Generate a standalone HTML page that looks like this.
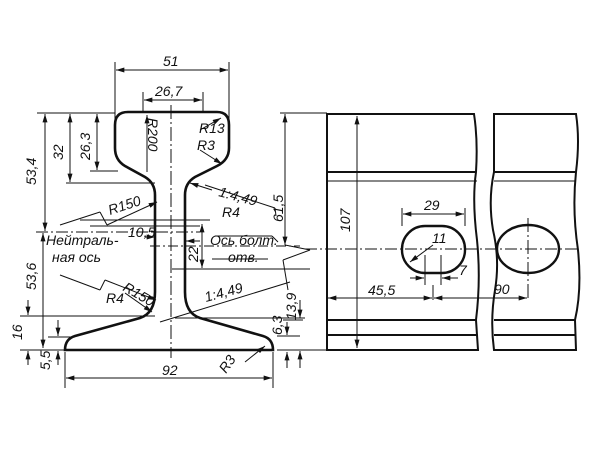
<!DOCTYPE html>
<html><head><meta charset="utf-8"><style>
html,body{margin:0;padding:0;background:#fff;width:600px;height:450px;overflow:hidden}
svg{display:block}
text{font-family:"Liberation Sans",sans-serif;font-style:italic;fill:#111;font-size:14px}
</style></head><body>
<svg width="600" height="450" viewBox="0 0 600 450" xmlns="http://www.w3.org/2000/svg">
<defs>
<marker id="a" viewBox="0 0 10 6" refX="10" refY="3" markerWidth="9" markerHeight="5" orient="auto-start-reverse"><path d="M0,0L10,3L0,6z" fill="#111"/></marker>
</defs>
<g fill="none" stroke="#111" stroke-width="1">
<path d="M115,125 Q115,112 128,112 L217,112 Q229,112 229,125 L229,148 Q229,160 217,166 L195,177 Q185,183 185,195 L185,292 Q185,313 200,318 L263,336 Q273,339 273,350 L65,350 Q65,339 75,336 L140,318 Q155,313 155,292 L155,195 Q155,183 145,177 L125,166 Q115,160 115,148 Z" stroke-width="2.6"/>
<line x1="171" y1="105" x2="171" y2="358" stroke-dasharray="14,3,2,3"/>
<line x1="115" y1="62" x2="115" y2="120"/><line x1="229" y1="62" x2="229" y2="120"/>
<line x1="116" y1="70" x2="228" y2="70" marker-start="url(#a)" marker-end="url(#a)"/>
<line x1="143" y1="92" x2="143" y2="112"/><line x1="203" y1="92" x2="203" y2="112"/>
<line x1="144" y1="100" x2="202" y2="100" marker-start="url(#a)" marker-end="url(#a)"/>
<line x1="37" y1="113" x2="115" y2="113"/>
<line x1="66" y1="183" x2="155" y2="183"/>
<line x1="90" y1="171" x2="118" y2="171"/>
<line x1="45" y1="114" x2="45" y2="231" marker-start="url(#a)" marker-end="url(#a)"/>
<line x1="70" y1="114" x2="70" y2="182" marker-start="url(#a)" marker-end="url(#a)"/>
<line x1="97" y1="114" x2="97" y2="170" marker-start="url(#a)" marker-end="url(#a)"/>
<line x1="147" y1="115" x2="147" y2="172" marker-start="url(#a)"/>
<line x1="36" y1="232" x2="200" y2="232" stroke-dasharray="12,3,2,3"/>
<line x1="43" y1="233" x2="43" y2="348" marker-start="url(#a)" marker-end="url(#a)"/>
<line x1="20" y1="316" x2="155" y2="316"/>
<line x1="20" y1="350" x2="65" y2="350"/>
<line x1="48" y1="337" x2="75" y2="337"/>
<line x1="28" y1="300" x2="28" y2="315" marker-end="url(#a)"/>
<line x1="28" y1="365" x2="28" y2="351" marker-end="url(#a)"/>
<line x1="58" y1="320" x2="58" y2="336" marker-end="url(#a)"/>
<line x1="58" y1="365" x2="58" y2="351" marker-end="url(#a)"/>
<line x1="65" y1="352" x2="65" y2="388"/><line x1="273" y1="352" x2="273" y2="388"/>
<line x1="66" y1="378" x2="272" y2="378" marker-start="url(#a)" marker-end="url(#a)"/>
<line x1="200" y1="130" x2="221" y2="118" marker-end="url(#a)"/>
<line x1="200" y1="150" x2="222" y2="164" marker-end="url(#a)"/>
<line x1="60" y1="225" x2="100" y2="212"/><line x1="100" y1="212" x2="107" y2="225"/><line x1="107" y1="225" x2="157" y2="202" marker-end="url(#a)"/>
<line x1="212" y1="190" x2="190" y2="183" marker-end="url(#a)"/>
<line x1="205" y1="185" x2="275" y2="208"/><line x1="275" y1="208" x2="276" y2="216"/>
<line x1="60" y1="275" x2="100" y2="290"/><line x1="100" y1="290" x2="105" y2="280"/><line x1="105" y1="280" x2="156" y2="300" marker-end="url(#a)"/>
<line x1="125" y1="293" x2="152" y2="312" marker-end="url(#a)"/>
<line x1="160" y1="322" x2="290" y2="282"/>
<line x1="175" y1="318" x2="305" y2="318"/>
<line x1="245" y1="362" x2="265" y2="346" marker-end="url(#a)"/>
<line x1="80" y1="220" x2="210" y2="220"/>
<line x1="90" y1="226" x2="200" y2="226"/>
<line x1="145" y1="237" x2="155" y2="237" marker-end="url(#a)"/>
<line x1="200" y1="241" x2="186" y2="241" marker-end="url(#a)"/>
<line x1="150" y1="246" x2="300" y2="246" stroke-dasharray="10,3,2,3"/>
<line x1="172" y1="269" x2="310" y2="269"/>
<line x1="202" y1="224" x2="202" y2="268" marker-start="url(#a)" marker-end="url(#a)"/>
<line x1="215" y1="236" x2="272" y2="236"/><line x1="272" y1="236" x2="278" y2="242"/>
<line x1="212" y1="259" x2="268" y2="259"/>
<line x1="285" y1="245" x2="310" y2="250"/><line x1="310" y1="250" x2="283" y2="260"/><line x1="283" y1="260" x2="288" y2="290"/>
<line x1="280" y1="113" x2="327" y2="113"/>
<line x1="285" y1="114" x2="285" y2="245" marker-start="url(#a)" marker-end="url(#a)"/>
<line x1="283" y1="320" x2="303" y2="320"/>
<line x1="277" y1="336" x2="300" y2="336"/>
<line x1="300" y1="300" x2="300" y2="318" marker-end="url(#a)"/>
<line x1="300" y1="368" x2="300" y2="351" marker-end="url(#a)"/>
<line x1="287" y1="322" x2="287" y2="335" marker-end="url(#a)"/>
<line x1="287" y1="368" x2="287" y2="352" marker-end="url(#a)"/>
<line x1="277" y1="350" x2="327" y2="350"/>
<path d="M327,114 L474,114 Q478,140 476,172 Q472,200 477,240 Q481,280 476,320 L478,350 L327,350 Z" stroke-width="2"/>
<line x1="327" y1="172" x2="476" y2="172" stroke-width="2"/>
<line x1="327" y1="181" x2="477" y2="181"/>
<line x1="327" y1="320" x2="476" y2="320" stroke-width="2"/>
<line x1="327" y1="335" x2="477" y2="335" stroke-width="2"/>
<line x1="357" y1="116" x2="357" y2="348" marker-start="url(#a)" marker-end="url(#a)"/>
<line x1="305" y1="249" x2="580" y2="249" stroke-dasharray="12,3,2,3"/>
<rect x="402" y="226" width="63" height="47" rx="23" stroke-width="2.4"/>
<line x1="402" y1="208" x2="402" y2="226"/><line x1="465" y1="208" x2="465" y2="226"/>
<line x1="403" y1="214" x2="464" y2="214" marker-start="url(#a)" marker-end="url(#a)"/>
<line x1="433" y1="245" x2="410" y2="262" marker-end="url(#a)"/>
<line x1="425" y1="255" x2="425" y2="285"/><line x1="441" y1="255" x2="441" y2="285"/>
<line x1="410" y1="278" x2="424" y2="278" marker-end="url(#a)"/><line x1="458" y1="278" x2="442" y2="278" marker-end="url(#a)"/>
<line x1="433" y1="285" x2="433" y2="300"/>
<line x1="328" y1="298" x2="432" y2="298" marker-start="url(#a)" marker-end="url(#a)"/>
<line x1="434" y1="298" x2="527" y2="298" marker-start="url(#a)" marker-end="url(#a)"/>
<path d="M494,114 L576,114 Q580,140 576,172 Q572,210 578,250 Q582,290 575,320 L576,350 L494,350 Q490,320 495,290 Q500,260 493,230 Q488,200 494,172 Z" stroke-width="2"/>
<line x1="494" y1="172" x2="576" y2="172" stroke-width="2"/>
<line x1="494" y1="181" x2="576" y2="181"/>
<line x1="494" y1="320" x2="575" y2="320" stroke-width="2"/>
<line x1="494" y1="335" x2="576" y2="335" stroke-width="2"/>
<ellipse cx="528" cy="249" rx="31" ry="24" stroke-width="2.4"/>
<line x1="528" y1="218" x2="528" y2="300" stroke-dasharray="14,3,2,3"/>
</g>
<text x="163" y="66">51</text>
<text x="155" y="96">26,7</text>
<text x="199" y="133">R13</text>
<text x="197" y="150">R3</text>
<text transform="translate(148,118) rotate(90)">R200</text>
<text transform="translate(36,185) rotate(-90)">53,4</text>
<text transform="translate(63,160) rotate(-90)">32</text>
<text transform="translate(90,160) rotate(-90)">26,3</text>
<text transform="translate(36,290) rotate(-90)">53,6</text>
<text transform="translate(22,340) rotate(-90)">16</text>
<text transform="translate(50,370) rotate(-90)">5,5</text>
<text x="110" y="215" transform="rotate(-18 110 215)">R150</text>
<text x="218" y="196" transform="rotate(15 218 196)">1:4,49</text>
<text x="222" y="217">R4</text>
<text x="128" y="237">10,5</text>
<text x="46" y="245">Нейтраль-</text>
<text x="52" y="262">ная ось</text>
<text x="210" y="245">Ось болт.</text>
<text x="228" y="262">отв.</text>
<text transform="translate(198,262) rotate(-90)">22</text>
<text x="122" y="290" transform="rotate(30 122 290)">R150</text>
<text x="106" y="303">R4</text>
<text x="206" y="302" transform="rotate(-15 206 302)">1:4,49</text>
<text x="162" y="375">92</text>
<text x="226" y="374" transform="rotate(-55 226 374)">R3</text>
<text transform="translate(282,335) rotate(-90)">6,3</text>
<text transform="translate(296,320) rotate(-90)">13,9</text>
<text transform="translate(283,222) rotate(-90)">61,5</text>
<text transform="translate(350,232) rotate(-90)">107</text>
<text x="424" y="210">29</text>
<text x="432" y="243">11</text>
<text x="459" y="275">7</text>
<text x="368" y="295">45,5</text>
<text x="494" y="294">90</text>
</svg>
</body></html>
